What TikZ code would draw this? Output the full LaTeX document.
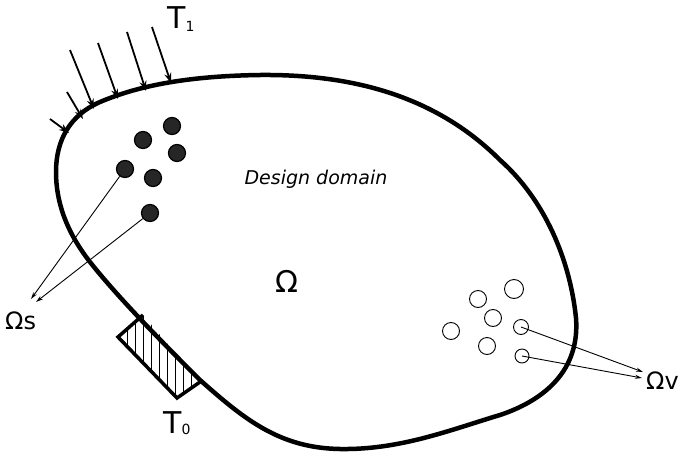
\documentclass[tikz,border=0pt]{standalone}
\usepackage{fontspec}
\setmainfont{DejaVu Sans}
\usetikzlibrary{arrows.meta}
\begin{document}
\begin{tikzpicture}[x=1pt,y=-1pt,
  solid dot/.style={circle,draw=black,line width=1.2pt,fill=black!85,minimum size=17pt,inner sep=0pt},
  void dot/.style={circle,draw=black,line width=0.9pt,fill=none,minimum size=17pt,inner sep=0pt},
  small void/.style={void dot,minimum size=14pt},
  load arrow/.style={line width=1.8pt,-{Stealth[length=10pt,width=7pt]}},
  thin arrow/.style={line width=0.9pt,-{Stealth[length=7pt,width=4pt]}},
  boundary/.style={line width=4.5pt,line join=round},
  lbl/.style={inner sep=0pt,font=\fontsize{30}{34}\selectfont}
]
\useasboundingbox (0,0) rectangle (685,458);

% design domain outline
\draw[boundary] (56,172) .. controls (56,140) and (70,115) .. (100,102)
  .. controls (140,85) and (190,76) .. (260,75)
  .. controls (360,74) and (440,100) .. (500,160)
  .. controls (545,200) and (570,260) .. (576,318)
  .. controls (580,370) and (545,400) .. (500,415)
  .. controls (450,430) and (400,450) .. (340,449)
  .. controls (280,448) and (245,420) .. (200,380)
  .. controls (170,350) and (120,300) .. (90,262)
  .. controls (65,230) and (56,200) .. cycle;

% support (hatched block)
\coordinate (sA) at (143,315);
\coordinate (sB) at (118,337);
\coordinate (sC) at (177,398);
\coordinate (sD) at (200,382);
\begin{scope}
  \clip (sA) -- (sB) -- (sC) -- (sD) -- cycle;
  \foreach \x in {127,135,143,151,159,167,175,183,191}
    \draw[line width=0.9pt] (\x,300) -- (\x,410);
\end{scope}
\draw[line width=3.5pt,line join=miter] (sA) -- (sB) -- (sC) -- (sD);

% load arrows on Gamma_1
\coordinate (a1s) at (50,119);  \coordinate (a1e) at (69,133);
\coordinate (a2s) at (67,92);   \coordinate (a2e) at (83,119);
\coordinate (a3s) at (70,50);   \coordinate (a3e) at (94,109);
\coordinate (a4s) at (98,43);   \coordinate (a4e) at (118,99);
\coordinate (a5s) at (127,32);  \coordinate (a5e) at (146,91);
\coordinate (a6s) at (152,27);  \coordinate (a6e) at (171,83);
\foreach \i in {1,...,6} \draw[load arrow] (a\i s) -- (a\i e);

% labels
\node[lbl] (t1) at (181,19) {T\raisebox{-0.15ex}{\fontsize{14}{16}\selectfont 1}};
\node[lbl] (t0) at (177,423) {T\raisebox{-0.1ex}{\fontsize{14}{16}\selectfont 0}};
\node[inner sep=0pt,font=\fontsize{19}{22}\selectfont\itshape] (dd) at (316,179) {Design domain};
\node[lbl] (om) at (287,281) {Ω};
\node[inner sep=0pt,font=\fontsize{24}{28}\selectfont,anchor=west] (oms) at (5,321) {Ωs};
\node[inner sep=0pt,font=\fontsize{24}{28}\selectfont,anchor=west] (omv) at (646,381) {Ωv};

% solid inclusions Omega_s
\node[solid dot] (s1) at (143,140) {};
\node[solid dot] (s2) at (172,126) {};
\node[solid dot] (s3) at (177,153) {};
\node[solid dot] (s4) at (125,169) {};
\node[solid dot] (s5) at (153,178) {};
\node[solid dot] (s6) at (150,213) {};
\coordinate (osA) at (31,299);
\coordinate (osB) at (36,302);
\draw[thin arrow] (s4) -- (osA);
\draw[thin arrow] (s6) -- (osB);

% voids Omega_v
\node[void dot] (v1) at (478,299) {};
\node[void dot,minimum size=19pt] (v2) at (514,289) {};
\node[void dot] (v3) at (493,318) {};
\node[void dot] (v4) at (451,331) {};
\node[small void,minimum size=15pt] (v5) at (521,327) {};
\node[void dot] (v6) at (487,346) {};
\node[small void] (v7) at (522,356) {};
\coordinate (ovA) at (643,372);
\coordinate (ovB) at (642,378);
\draw[thin arrow] (v5.center) -- (ovA);
\draw[thin arrow] (v7.center) -- (ovB);
\end{tikzpicture}
\end{document}
